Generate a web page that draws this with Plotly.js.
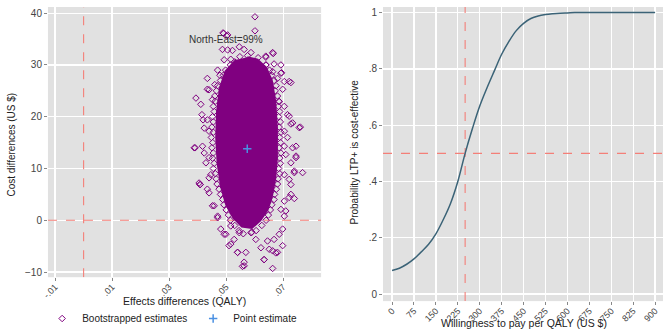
<!DOCTYPE html>
<html>
<head>
<meta charset="utf-8">
<script src="https://cdn.plot.ly/plotly-3.0.1.min.js"></script>
<style>html,body{margin:0;padding:0;background:#fff;}#chart{width:669px;height:333px;}</style>
</head>
<body>
<div id="chart"></div>
<script>
// ---- Left panel: bootstrapped cost-effectiveness plane ----
// Dense core of the bootstrap cloud (outline of the solid region)
const coreX = [0.0574,0.0610,0.0640,0.0660,0.0672,0.0678,0.0678,0.0672,0.0660,0.0645,0.0620,0.0590,0.0555,0.0525,0.0500,0.0482,0.0470,0.0465,0.0468,0.0478,0.0498,0.0535];
const coreY = [31.5,31.0,29.5,27.0,23.0,18.0,12.0,8.0,4.5,2.0,0.0,-1.5,-1.2,0.5,3.0,6.5,11.0,16.0,21.0,25.5,28.8,31.0];
// Individually visible bootstrap replicates (outer points and edge of the cloud)
const bootX = [0.0601,0.0601,0.0491,0.0502,0.0487,0.0505,0.0522,0.0546,0.0563,0.0587,0.0663,0.0639,0.0493,0.0516,0.0639,0.0668,0.0692,0.0663,0.0692,0.0434,0.0704,0.0727,0.0698,0.0434,0.0394,0.0460,0.0680,0.0470,
 0.0411,0.0415,0.0419,0.0391,0.0417,0.0408,0.0434,0.0452,0.0470,0.0481,0.0499,0.0510,0.0540,0.0563,0.0563,0.0633,0.0663,0.0663,0.0680,0.0698,0.0698,0.0709,0.0721,0.0739,0.0739,0.0768,0.0745,0.0745,0.0760,0.0721,0.0733,0.0721,0.0694,0.0665,0.0639,0.0489,0.0505,0.0440,0.0452,
 0.0434,0.0423,0.0440,0.0388,0.0423,0.0440,0.0429,0.0446,0.0440,0.0405,0.0715,0.0727,0.0756,0.0704,0.0715,0.0704,0.0733,0.0709,0.0745,0.0727,0.0739,0.0721,0.0704,0.0686,0.0704,
 0.0409,0.0440,0.0458,0.0470,0.0493,0.0516,0.0540,0.0569,0.0557,0.0633,0.0622,0.0651,0.0674,0.0668,0.0686,0.0704,0.0692,0.0704,0.0727,0.0727,0.0645,0.0604,0.0587,0.0528,0.0546,0.0516,
 0.0515,0.0640,0.0498,0.0652,0.0490,0.0660,0.0478,0.0480,0.0668,0.0470,0.0675,0.0466,0.0672,0.0460,0.0680,0.0462,0.0685,0.0455,0.0683,0.0458,0.0688,0.0452,0.0684,0.0455,0.0690,0.0450,0.0686,
 0.0455,0.0692,0.0448,0.0688,0.0453,0.0691,0.0450,0.0686,0.0455,0.0692,0.0452,0.0688,0.0458,0.0690,0.0455,0.0684,0.0462,0.0688,0.0465,0.0682,0.0468,0.0680,0.0475,0.0676,0.0480,0.0670,
 0.0488,0.0668,0.0492,0.0660,0.0500,0.0655,0.0508,0.0648,0.0515,0.0640,0.0530,0.0625,0.0545,0.0605,0.0560,0.0590,0.0575,0.0548,0.0612,0.0530];
const bootY = [39.3,36.6,36.1,35.6,33.0,32.9,32.8,33.5,33.0,32.4,32.4,31.7,31.0,31.1,30.0,30.2,30.0,28.7,28.4,27.4,26.8,26.6,25.3,25.3,23.6,26.2,27.4,29.0,
 22.4,20.4,19.4,14.0,14.3,6.9,6.0,2.8,0.5,-1.7,-2.7,-4.9,-6.2,-8.1,-8.8,-7.6,-9.3,-5.9,-6.2,-4.9,-1.7,1.8,4.4,4.2,9.5,9.2,12.4,14.3,18.0,20.1,18.8,26.8,28.5,32.2,31.5,36.2,35.8,25.2,23.3,
 19.4,17.8,17.2,14.0,13.0,12.1,11.1,8.8,8.2,7.2,20.4,18.6,17.9,17.2,16.0,14.3,14.0,12.7,12.1,11.1,9.2,7.9,8.8,22.9,22.0,
 6.9,5.3,2.8,0.8,-2.7,-4.6,-6.2,-6.2,-8.9,-7.6,-5.3,-5.6,-6.3,-3.7,-2.7,0.8,2.1,3.7,5.0,6.9,-4.0,-3.7,-2.4,-3.7,-2.4,-1.1,
 30.0,30.0,29.0,29.0,28.0,28.0,28.0,27.0,27.0,26.0,26.0,25.0,25.0,24.0,24.0,23.0,23.0,22.0,22.0,21.0,21.0,20.0,20.0,19.0,19.0,18.0,18.0,
 17.0,17.0,16.0,16.0,15.0,15.0,14.0,14.0,13.0,13.0,12.0,12.0,11.0,11.0,10.0,10.0,9.0,9.0,8.0,8.0,7.0,7.0,6.0,6.0,5.0,5.0,
 4.0,4.0,3.0,3.0,2.0,2.0,1.0,1.0,0.0,0.0,-1.0,-1.0,-2.0,-2.0,-2.6,-2.3,31.8,31.6,31.4,30.6];
const pointX = [0.0574];
const pointY = [13.8];
const planeXRange = [-0.0125, 0.0833];
const planeYRange = [-11, 41.2];
const planeRefX = [0];   // vertical reference line (zero effect)
const planeRefY = [0];   // horizontal reference line (zero cost)
const planeXTicks = [-0.01, 0.01, 0.03, 0.05, 0.07];
const planeXTickText = ["-.01", ".01", ".03", ".05", ".07"];
const planeYTicks = [-10, 0, 10, 20, 30, 40];

// ---- Right panel: cost-effectiveness acceptability curve ----
const wtp = [0,25,50,75,100,125,150,175,200,225,250,275,300,325,350,375,400,425,450,475,500,525,550,575,600,625,650,675,700,725,750,775,800,825,850,875,900];
const prob = [0.084,0.092,0.106,0.125,0.150,0.177,0.214,0.264,0.322,0.400,0.500,0.588,0.668,0.733,0.793,0.852,0.898,0.936,0.962,0.979,0.988,0.993,0.996,0.998,0.999,1,1,1,1,1,1,1,1,1,1,1,1];
const ceacXRange = [-31, 927];
const ceacYRange = [-0.025, 1.02];
const ceacRefX = [250];
const ceacRefY = [0.5];
const ceacXTicks = [0,75,150,225,300,375,450,525,600,675,750,825,900];
const ceacYTicks = [0,0.2,0.4,0.6,0.8,1];
const ceacYTickText = ["0",".2",".4",".6",".8","1"];

const purple = '#800080';
const fam = 'Liberation Sans, Arial, sans-serif';
const font = {family: fam, size: 10, color: '#333'};
const refLine = {color: '#f47f78', width: 1.1, dash: 'dash'};

function refTrace(xs, ys, xa, ya) {
  return {x: xs, y: ys, type: 'scatter', mode: 'lines', line: refLine, showlegend: false, hoverinfo: 'skip', xaxis: xa, yaxis: ya};
}

const traces = [
  refTrace([planeRefX[0], planeRefX[0]], planeYRange, 'x', 'y'),
  refTrace(planeXRange, [planeRefY[0], planeRefY[0]], 'x', 'y'),
  refTrace([ceacRefX[0], ceacRefX[0]], ceacYRange, 'x2', 'y2'),
  refTrace(ceacXRange, [ceacRefY[0], ceacRefY[0]], 'x2', 'y2'),
  {x: coreX, y: coreY, type: 'scatter', mode: 'lines', fill: 'toself', fillcolor: purple,
   line: {color: purple, width: 2}, showlegend: false, hoverinfo: 'skip', xaxis: 'x', yaxis: 'y'},
  {x: bootX, y: bootY, type: 'scatter', mode: 'markers', name: 'Bootstrapped estimates',
   marker: {symbol: 'diamond-open', size: 5, color: purple, line: {width: 1, color: purple}}, xaxis: 'x', yaxis: 'y'},
  {x: pointX, y: pointY, type: 'scatter', mode: 'markers', name: 'Point estimate',
   marker: {symbol: 'cross-thin-open', size: 6, color: '#4a90e2', line: {width: 1.5, color: '#4a90e2'}}, xaxis: 'x', yaxis: 'y'},
  {x: wtp, y: prob, type: 'scatter', mode: 'lines', line: {color: '#3b6377', width: 1.5, shape: 'spline'},
   showlegend: false, xaxis: 'x2', yaxis: 'y2'}
];

const axCommon = {showline: false, zeroline: false, gridcolor: '#ffffff', gridwidth: 1.3, ticks: 'outside',
  ticklen: 3, tickcolor: '#888', tickfont: {family: fam, size: 10, color: '#444'}, automargin: false};
const xTickFont = {family: fam, size: 9, color: '#444'};

const titleFont = {family: fam, size: 10.5, color: '#222'};
const layout = {
  width: 669, height: 333,
  margin: {l: 0, r: 0, t: 0, b: 0},
  paper_bgcolor: '#ffffff', plot_bgcolor: '#e1e1e1',
  font: font,
  showlegend: true,
  legend: {orientation: 'h', x: 0.063, y: 0.042, xanchor: 'left', yanchor: 'middle',
    font: {family: fam, size: 10, color: '#222'}, entrywidth: 106, entrywidthmode: 'pixels', bgcolor: 'rgba(0,0,0,0)'},
  xaxis: Object.assign({}, axCommon, {domain: [0.0717, 0.480], range: planeXRange, anchor: 'y',
    tickvals: planeXTicks, ticktext: planeXTickText, tickangle: -45, ticklabelstandoff: -3, tickfont: xTickFont}),
  yaxis: Object.assign({}, axCommon, {domain: [0.165, 0.979], range: planeYRange, anchor: 'x',
    tickvals: planeYTicks}),
  xaxis2: Object.assign({}, axCommon, {domain: [0.5725, 0.991], range: ceacXRange, anchor: 'y2',
    tickvals: ceacXTicks, tickangle: -45, ticklabelstandoff: -3, tickfont: xTickFont}),
  yaxis2: Object.assign({}, axCommon, {domain: [0.093, 0.979], range: ceacYRange, anchor: 'x2',
    tickvals: ceacYTicks, ticktext: ceacYTickText}),
  annotations: [
    {text: 'North-East=99%', x: 0.05, y: 35, xref: 'x', yref: 'y', showarrow: false, xanchor: 'center', yanchor: 'middle', font: {family: fam, size: 10, color: '#333'}},
    {text: 'Effects differences (QALY)', x: 184/669, y: 1 - 302/333, xref: 'paper', yref: 'paper', showarrow: false, xanchor: 'center', yanchor: 'middle', font: titleFont},
    {text: 'Cost differences (US $)', x: 12/669, y: 1 - 145/333, xref: 'paper', yref: 'paper', showarrow: false, xanchor: 'center', yanchor: 'middle', textangle: -90, font: {family: fam, size: 10, color: '#222'}},
    {text: 'Willingness to pay per QALY (US $)', x: 524/669, y: 1 - 324/333, xref: 'paper', yref: 'paper', showarrow: false, xanchor: 'center', yanchor: 'middle', font: titleFont},
    {text: 'Probability LTP+ is cost-effective', x: 355/669, y: 1 - 153/333, xref: 'paper', yref: 'paper', showarrow: false, xanchor: 'center', yanchor: 'middle', textangle: -90, font: {family: fam, size: 10, color: '#222'}}
  ]
};

Plotly.newPlot('chart', traces, layout, {displayModeBar: false, staticPlot: true});
</script>
</body>
</html>
